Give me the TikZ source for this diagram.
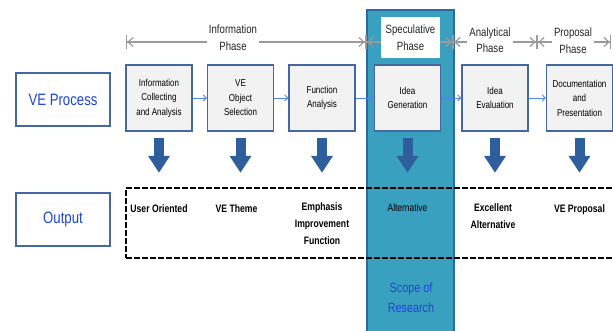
\documentclass[tikz,border=0pt]{standalone}
\usepackage{fontspec}
\setmainfont{Liberation Sans}[FakeStretch=0.8]
\usepackage{tikz}
\usetikzlibrary{arrows.meta}
\usetikzlibrary{positioning}

\definecolor{boxblue}{HTML}{45689E}
\definecolor{arrblue}{HTML}{2F5E9C}
\definecolor{txtblue}{HTML}{1C46D6}
\definecolor{scope}{HTML}{3AA0BF}
\definecolor{scopeedge}{HTML}{2C6A9E}
\definecolor{flowblue}{HTML}{4F82E6}
\definecolor{boxfill}{HTML}{F2F2F2}
\definecolor{phasegray}{HTML}{9A9A9A}

\tikzset{
    process/.style={
      rectangle,
           draw=boxblue, line width=1.5pt, fill=boxfill,
           inner sep=2pt,
           text centered, align=center,
           minimum width=66pt,
           minimum height=66pt,
           font=\fontsize{10}{14.5}\selectfont,
           },
}
\tikzset{
    headbox/.style={
      rectangle,
           draw=boxblue, line width=2pt, fill=white,
           inner sep=2pt,
           text centered, text=txtblue,
           minimum width=94pt,
           minimum height=53pt,
           font=\fontsize{16.5}{19}\selectfont,
           },
}
\tikzset{
    scopebox/.style={
      rectangle,
           draw=scopeedge, line width=1.5pt, fill=scope,
           minimum width=87pt,
           minimum height=330pt,
           },
}
\tikzset{
    outline/.style={
      rectangle,
           draw=black, line width=2pt, dash pattern=on 6pt off 2pt,
           minimum width=492pt,
           minimum height=70pt,
           },
}
\tikzset{
    outtext/.style={
           anchor=north, inner sep=0pt,
           align=center,
           font=\bfseries\fontsize{10.8}{17}\selectfont,
           },
}
\tikzset{
    phasetext/.style={
           fill=white, inner sep=2pt,
           align=center, text=black!85,
           font=\fontsize{12}{16.5}\selectfont,
           },
}
\tikzset{
    phaseline/.style={
           draw=phasegray, line width=1.2pt,
           {Bar[width=14pt]Straight Barb[length=5pt,width=9pt]}-{Straight Barb[length=5pt,width=9pt]Bar[width=14pt]},
           },
}
\tikzset{
    flow/.style={draw=flowblue, line width=0.8pt, -{Straight Barb[length=3pt,width=6pt]}},
    dnarrow/.style={draw=arrblue, line width=10pt, -{Triangle[width=21pt,length=17pt]}},
}

\begin{document}
\begin{tikzpicture}[x=1pt,y=1pt]
\useasboundingbox (0,0) rectangle (613,330);

% scope of research
\node[scopebox](sco) at (410.5,155){};
\node[text=txtblue,align=center,font=\fontsize{13.5}{20}\selectfont](sor) at (411,32){Scope of\\Research};

% dashed output band
\node[outline](outs) at (372,107){};

% phases
\coordinate (p0) at (126,288);
\coordinate (p1) at (366,288);
\coordinate (p2) at (453,288);
\coordinate (p3) at (537,288);
\coordinate (p4) at (611,288);

\draw[phaseline] (p0) -- (p1);
\draw[phaseline] (p1) -- (p2);
\draw[phaseline] (p2) -- (p3);
\draw[phaseline] (p3) -- (p4);

\node[phasetext](inp) at (233,292.5){Information\\Phase};
\node[phasetext,minimum width=59pt,minimum height=41pt](spp) at (410.5,292.5){Speculative\\Phase};
\node[phasetext](anp) at (490,290){Analytical\\Phase};
\node[phasetext](prp) at (573,289.5){Proposal\\Phase};

% row headers
\node[headbox](vep) at (63,230.5){VE Process};
\node[headbox](out) at (63,110.5){Output};

% process boxes
\node[process](inf) at (159,232){Information\\Collecting\\and Analysis};
\node[process,right = 14pt of inf](obj){VE\\Object\\Selection};
\node[process,right = 14pt of obj](fun){Function\\Analysis};
\node[process,right = 18pt of fun](ide){Idea\\Generation};
\node[process,right = 20pt of ide](eva){Idea\\Evaluation};
\node[process,right = 17pt of eva](doc){Documentation\\and\\Presentation};

\path (inf) edge[flow](obj);
\path (obj) edge[flow](fun);
\path (fun) edge[flow](ide);
\path (ide) edge[flow](eva);
\path (eva) edge[flow](doc);

% down arrows
\draw[dnarrow] ([yshift=-6pt]inf.south) -- ([yshift=-41pt]inf.south);
\draw[dnarrow] ([yshift=-6pt]obj.south) -- ([yshift=-41pt]obj.south);
\draw[dnarrow] ([yshift=-6pt]fun.south) -- ([yshift=-41pt]fun.south);
\draw[dnarrow] ([yshift=-6pt]ide.south) -- ([yshift=-41pt]ide.south);
\draw[dnarrow] ([yshift=-6pt]eva.south) -- ([yshift=-41pt]eva.south);
\draw[dnarrow] ([yshift=-6pt]doc.south) -- ([yshift=-41pt]doc.south);

% outputs
\node[outtext](uso) at ([yshift=-17pt]inf |- outs.north){User Oriented};
\node[outtext](vet) at ([xshift=-4pt,yshift=-17pt]obj |- outs.north){VE Theme};
\node[outtext](emp) at ([yshift=-15pt]fun |- outs.north){Emphasis\\Improvement\\Function};
\node[outtext,font=\fontsize{10.5}{17}\selectfont](alt) at ([yshift=-17pt]ide |- outs.north){Alternative};
\node[outtext](exc) at ([xshift=-2pt,yshift=-16pt]eva |- outs.north){Excellent\\Alternative};
\node[outtext](vpr) at ([yshift=-17pt]doc |- outs.north){VE Proposal};

\end{tikzpicture}
\end{document}
